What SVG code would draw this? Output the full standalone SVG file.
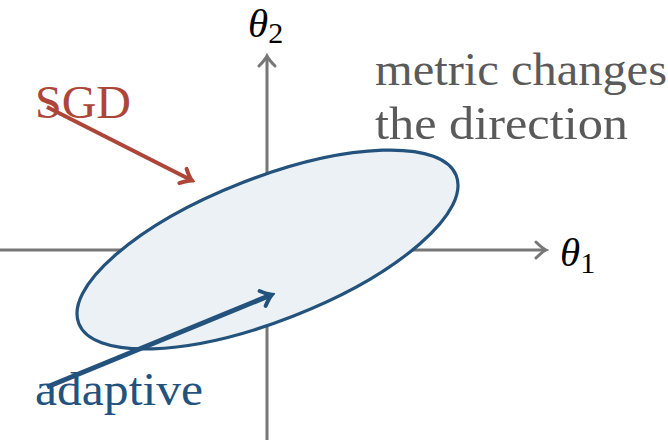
<svg xmlns="http://www.w3.org/2000/svg" width="668" height="440" viewBox="0 0 668 440">
<style>
.t{font-family:"Liberation Serif","DejaVu Serif",serif;font-size:46px}
.m{font-family:"Liberation Serif","DejaVu Serif",serif;font-style:italic;font-size:41px;fill:#000}
.s{font-family:"Liberation Serif","DejaVu Serif",serif;font-style:normal;font-size:30px;fill:#000}
.ax{stroke:#777;stroke-width:3;fill:none}
</style>
<defs>
<marker id="ag" markerUnits="userSpaceOnUse" viewBox="-12 -10 16 20" markerWidth="16" markerHeight="20" refX="0" refY="0" orient="auto">
<path d="M-9,-8 Q-3,-2 1,0 Q-3,2 -9,8" fill="none" stroke="#777" stroke-width="3" stroke-linecap="round"/>
</marker>
<marker id="ar" markerUnits="userSpaceOnUse" viewBox="-12 -10 16 20" markerWidth="16" markerHeight="20" refX="0" refY="0" orient="auto">
<path d="M-9,-8 Q-3,-2 1,0 Q-3,2 -9,8" fill="none" stroke="#ad4638" stroke-width="4" stroke-linecap="round"/>
</marker>
<marker id="ab" markerUnits="userSpaceOnUse" viewBox="-12 -10 16 20" markerWidth="16" markerHeight="20" refX="0" refY="0" orient="auto">
<path d="M-9,-8 Q-3,-2 1,0 Q-3,2 -9,8" fill="none" stroke="#23527c" stroke-width="4" stroke-linecap="round"/>
</marker>
</defs>
<g id="axes">
<line class="ax" x1="0" y1="250" x2="545" y2="250" marker-end="url(#ag)"/>
<line class="ax" x1="267" y1="440" x2="267" y2="57" marker-end="url(#ag)"/>
</g>
<g id="ellipse">
<ellipse cx="267.5" cy="249.5" rx="202.7" ry="71.4" transform="rotate(-21.4 267.5 249.5)" fill="#ebf1f5" stroke="#23527c" stroke-width="3.2"/>
</g>
<g id="labels">
<text class="m" x="560" y="266">θ<tspan class="s" dy="7">1</tspan></text>
<text class="m" x="248" y="37">θ<tspan class="s" dy="6">2</tspan></text>
<text class="t" x="375" y="85" fill="#5a5a5a" textLength="292" lengthAdjust="spacingAndGlyphs">metric changes</text>
<text class="t" x="375" y="139" fill="#5a5a5a" textLength="253" lengthAdjust="spacingAndGlyphs">the direction</text>
<text class="t" x="35" y="118" fill="#ad4638" textLength="96" lengthAdjust="spacingAndGlyphs">SGD</text>
<text class="t" x="35" y="405" fill="#23527c" textLength="168" lengthAdjust="spacingAndGlyphs">adaptive</text>
</g>
<g id="connectors">
<line x1="47" y1="107" x2="191" y2="180" stroke="#ad4638" stroke-width="4" marker-end="url(#ar)"/>
<line x1="47" y1="387" x2="271" y2="295" stroke="#23527c" stroke-width="5" marker-end="url(#ab)"/>
</g>
</svg>
